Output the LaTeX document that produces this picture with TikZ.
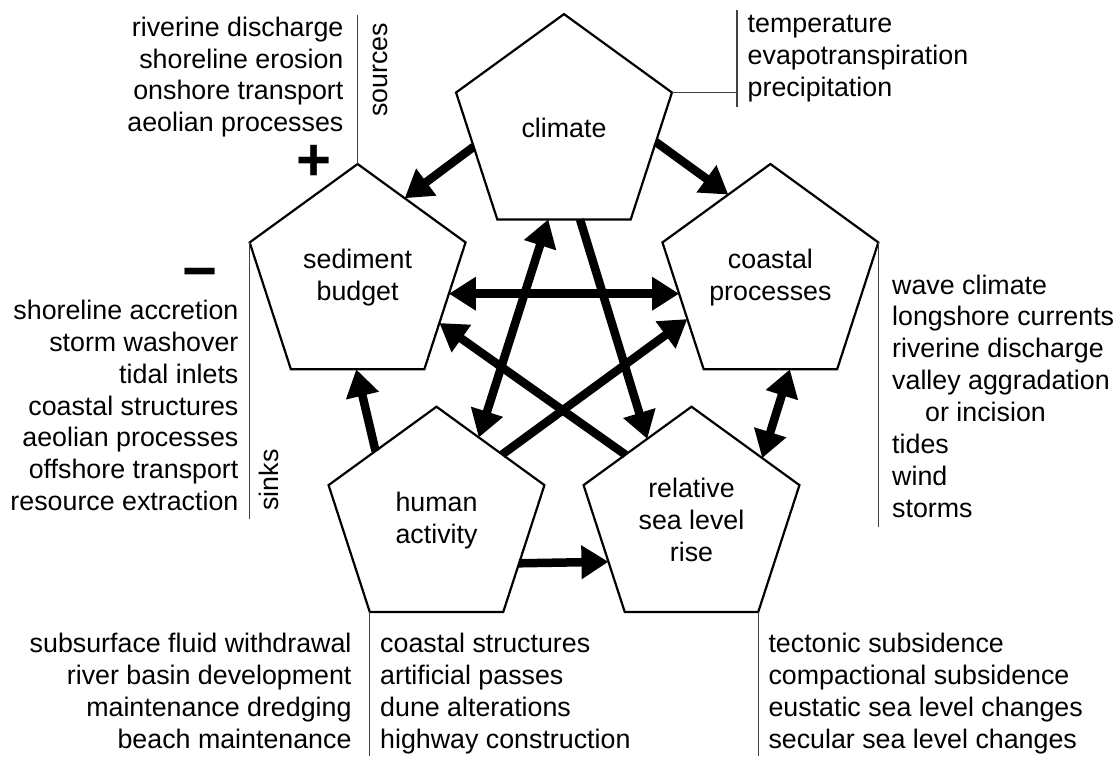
\documentclass[tikz,border=0pt]{standalone}
\usepackage{fontspec}
\setmainfont{Liberation Sans}
\usetikzlibrary{shapes.geometric,arrows.meta,calc}
\newcommand\mylbl{\fontsize{26.8}{31.8}\selectfont}
\begin{document}
\begin{tikzpicture}[x=1pt,y=-1pt,
  pent/.style={draw, fill=white, line width=2.2pt, regular polygon, regular polygon sides=5,
    minimum size=227pt, inner sep=0pt, outer sep=0pt, align=center, font=\mylbl},
  arr/.style={line width=8.5pt, -{Triangle[length=27pt,width=32pt]}},
  darr/.style={line width=8.5pt, {Triangle[length=27pt,width=32pt]}-{Triangle[length=27pt,width=32pt]}},
  ann/.style={line width=1.2pt, black!75},
  txt/.style={inner sep=0pt, font=\mylbl},
  sign/.style={inner sep=0pt, anchor=base, text height=0.62em, text depth=0pt,
    font=\fontsize{60}{60}\selectfont\bfseries},
]
\useasboundingbox (0,0) rectangle (1118,756);

% pentagons
\node[pent] (climate)  at (564,127.6) {climate};
\node[pent] (sediment) at (357.6,277.5) {sediment\\budget};
\node[pent] (coastal)  at (770.4,277.5) {coastal\\processes};
\node[pent] (human)    at (436.5,520.2) {human\\activity};
\node[pent] (rsl)      at (691.5,520.2) {relative\\sea level\\rise};

% arrows
\draw[arr] ($(climate.corner 2)!0.427!(climate.corner 3)$) -- ($(sediment.corner 1)!0.436!(sediment.corner 5)$);
\draw[arr] ($(climate.corner 5)!0.39!(climate.corner 4)$) -- ($(coastal.corner 1)!0.39!(coastal.corner 2)$);
\draw[darr] ($(sediment.corner 5)!0.404!(sediment.corner 4)$) -- ($(coastal.corner 2)!0.404!(coastal.corner 3)$);
\draw[arr] ($(rsl.corner 1)!0.612!(rsl.corner 2)$) -- ($(sediment.corner 5)!0.635!(sediment.corner 4)$);
\draw[arr] ($(human.corner 1)!0.609!(human.corner 5)$) -- ($(coastal.corner 2)!0.604!(coastal.corner 3)$);
\draw[darr] ($(climate.corner 3)!0.382!(climate.corner 4)$) -- ($(human.corner 1)!0.392!(human.corner 5)$);
\draw[arr] ($(climate.corner 3)!0.62!(climate.corner 4)$) -- ($(rsl.corner 1)!0.41!(rsl.corner 2)$);
\draw[arr] ($(human.corner 1)!0.565!(human.corner 2)$) -- ($(sediment.corner 3)!0.49!(sediment.corner 4)$);
\draw[arr] ($(human.corner 5)!0.616!(human.corner 4)$) -- ($(rsl.corner 2)!0.604!(rsl.corner 3)$);
\draw[darr] ($(coastal.corner 3)!0.646!(coastal.corner 4)$) -- ($(rsl.corner 1)!0.655!(rsl.corner 5)$);

% annotation lines
\coordinate (srctop) at (357.6,15);
\draw[ann] (sediment.corner 1) -- (srctop);
\coordinate (sinkbot) at (250,519.3);
\draw[ann] (sediment.corner 2) -- (sediment.corner 2 |- sinkbot);
\coordinate (cpbot) at (880,526.7);
\draw[ann] (coastal.corner 5) -- (coastal.corner 5 |- cpbot);
\coordinate (climj) at (737,93);
\coordinate (climt) at (737,10);
\coordinate (climb) at (737,107.3);
\draw[ann] (climate.corner 5) -- (climate.corner 5 -| climj);
\draw[ann] (climt) -- (climb);
\coordinate (pagebot) at (0,756);
\draw[ann] (human.corner 3) -- (human.corner 3 |- pagebot);
\draw[ann] (rsl.corner 4) -- (rsl.corner 4 |- pagebot);

% signs and rotated labels
\node[sign] (plus) at (313.6,180) {+};
\node[sign, text height=0.45em] (minus) at (200,291.7) {−};
\node[txt, rotate=90, anchor=base] (sources) at (387.5,70) {sources};
\node[txt, rotate=90, anchor=base] (sinks) at (278.6,480) {sinks};

% text blocks
\foreach \t [count=\i] in {riverine discharge, shoreline erosion, onshore transport, aeolian processes}
  \node[txt, anchor=base east] (src\i) at (343.6,{36.5+(\i-1)*31.7}) {\t};
\foreach \t [count=\i] in {shoreline accretion, storm washover, tidal inlets, coastal structures, aeolian processes, offshore transport, resource extraction}
  \node[txt, anchor=base east] (snk\i) at (238.6,{319.7+(\i-1)*31.8}) {\t};
\foreach \t [count=\i] in {temperature, evapotranspiration, precipitation}
  \node[txt, anchor=base west] (clm\i) at (747.5,{32+(\i-1)*32.1}) {\t};
\foreach \t [count=\i] in {wave climate, longshore currents, riverine discharge, valley aggradation, {\hspace*{33pt}or incision}, tides, wind, storms}
  \node[txt, anchor=base west] (cst\i) at (892,{294+(\i-1)*31.9}) {\t};
\foreach \t [count=\i] in {subsurface fluid withdrawal, river basin development, maintenance dredging, beach maintenance}
  \node[txt, anchor=base east] (hl\i) at (351.7,{652+(\i-1)*32.1}) {\t};
\foreach \t [count=\i] in {coastal structures, artificial passes, dune alterations, highway construction}
  \node[txt, anchor=base west] (hr\i) at (380,{652+(\i-1)*32.1}) {\t};
\foreach \t [count=\i] in {tectonic subsidence, compactional subsidence, eustatic sea level changes, secular sea level changes}
  \node[txt, anchor=base west] (rs\i) at (768.3,{652+(\i-1)*32.1}) {\t};
\end{tikzpicture}
\end{document}
